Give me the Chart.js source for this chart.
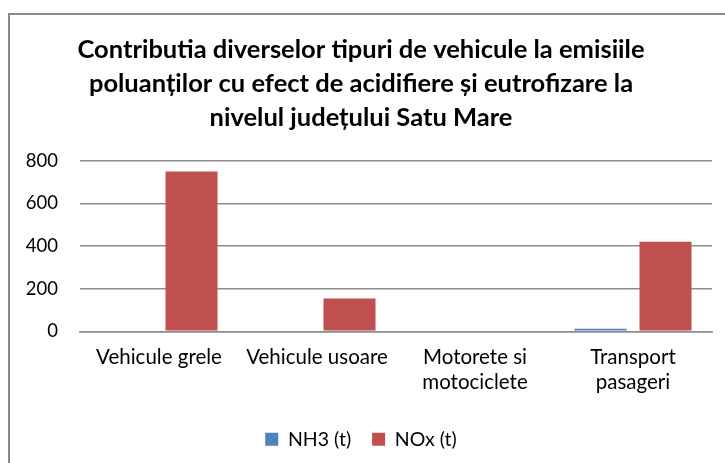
<!DOCTYPE html>
<html>
<head>
<meta charset="utf-8">
<script src="https://cdn.jsdelivr.net/npm/chart.js@4/dist/chart.umd.min.js"></script>
<style>
  html, body { margin: 0; padding: 0; background: #fff; overflow: hidden; width: 725px; height: 463px; }
  #frame { position: absolute; left: 8px; top: 13px; width: 730px; height: 460px; border: 2px solid #8a8a8a; box-sizing: border-box; }
  #wrap { position: absolute; left: 10px; top: 15px; width: 715px; height: 448px; }
</style>
</head>
<body>
<div id="frame"></div>
<div id="wrap"><canvas id="c" width="715" height="448"></canvas></div>
<script>
const titleLines = [
  "Contributia diverselor tipuri de vehicule la emisiile",
  "poluanților cu efect de acidifiere și eutrofizare la",
  "nivelul județului Satu Mare"
];
const categories = ["Vehicule grele", "Vehicule usoare", ["Motorete si", "motociclete"], ["Transport", "pasageri"]];
const nh3 = [0, 0, 0, 12];
const nox = [750, 154, 0, 420];
const yTicks = [0, 200, 400, 600, 800];

const FONT = "Lato, 'Liberation Sans', sans-serif";

new Chart(document.getElementById('c'), {
  type: 'bar',
  data: {
    labels: categories,
    datasets: [
      { label: 'NH3 (t)', data: nh3, backgroundColor: '#4F81BD', borderWidth: 0 },
      { label: 'NOx (t)', data: nox, backgroundColor: '#C0504D', borderWidth: 0 }
    ]
  },
  options: {
    responsive: false,
    animation: false,
    devicePixelRatio: 1,
    layout: { padding: { left: 0, right: 13, top: 0, bottom: 4 } },
    categoryPercentage: 0.823,
    barPercentage: 0.8,
    plugins: {
      title: {
        display: true,
        text: titleLines,
        color: '#000',
        font: { family: FONT, size: 25.5, weight: 'bold', lineHeight: 1.33 },
        padding: { top: 18, bottom: 26 }
      },
      legend: {
        position: 'bottom',
        labels: {
          color: '#000',
          font: { family: FONT, size: 19.5 },
          boxWidth: 13,
          boxHeight: 13,
          padding: 21
        }
      },
      tooltip: { enabled: false }
    },
    scales: {
      x: {
        grid: { display: false, drawTicks: false },
        border: { display: true, color: '#8c8c8c', width: 1.5 },
        ticks: {
          color: '#000',
          font: { family: FONT, size: 20.5, lineHeight: 1.2 },
          padding: 14,
          maxRotation: 0,
          autoSkip: false
        }
      },
      y: {
        min: 0,
        max: 800,
        afterBuildTicks: (s) => { s.ticks = yTicks.map(v => ({ value: v })); },
        afterFit: (s) => { s.width = 70; },
        grid: { color: '#8c8c8c', lineWidth: 1.5, drawTicks: false },
        border: { display: false },
        ticks: {
          color: '#000',
          font: { family: FONT, size: 18.5 },
          padding: 22
        }
      }
    }
  }
});
</script>
</body>
</html>
